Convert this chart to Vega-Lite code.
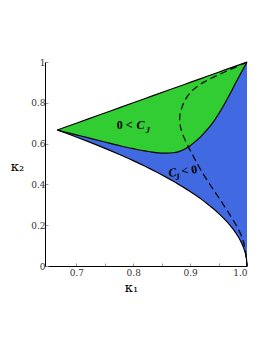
{
  "$schema": "https://vega.github.io/schema/vega-lite/v6.json",
  "autosize": "none",
  "width": 202,
  "height": 204,
  "padding": {"left": 45, "top": 62, "right": 26, "bottom": 87},
  "background": "white",
  "config": {
    "view": {"stroke": null},
    "axis": {"grid": false, "domainColor": "black", "domainWidth": 1, "tickColor": "#999", "tickSize": -3, "labelFont": "DejaVu Serif", "labelFontSize": 9, "labelColor": "#333", "titleFont": "DejaVu Serif", "titleFontWeight": "normal", "titleFontSize": 13, "titleColor": "black"}
  },
  "datasets": {
    "main": [
      {"k1": 0.6667, "lo": 0.6667, "mid": 0.6667, "up": 0.6667},
      {"k1": 0.68, "lo": 0.6532, "mid": 0.657, "up": 0.68},
      {"k1": 0.70, "lo": 0.6325, "mid": 0.643, "up": 0.70},
      {"k1": 0.72, "lo": 0.6110, "mid": 0.629, "up": 0.72},
      {"k1": 0.74, "lo": 0.5888, "mid": 0.615, "up": 0.74},
      {"k1": 0.76, "lo": 0.5657, "mid": 0.601, "up": 0.76},
      {"k1": 0.78, "lo": 0.5416, "mid": 0.587, "up": 0.78},
      {"k1": 0.80, "lo": 0.5164, "mid": 0.575, "up": 0.80},
      {"k1": 0.82, "lo": 0.4899, "mid": 0.564, "up": 0.82},
      {"k1": 0.83, "lo": 0.4761, "mid": 0.560, "up": 0.83},
      {"k1": 0.84, "lo": 0.4619, "mid": 0.556, "up": 0.84},
      {"k1": 0.86, "lo": 0.4320, "mid": 0.553, "up": 0.86},
      {"k1": 0.87, "lo": 0.4163, "mid": 0.555, "up": 0.87},
      {"k1": 0.88, "lo": 0.4000, "mid": 0.561, "up": 0.88},
      {"k1": 0.89, "lo": 0.3830, "mid": 0.572, "up": 0.89},
      {"k1": 0.90, "lo": 0.3651, "mid": 0.590, "up": 0.90},
      {"k1": 0.91, "lo": 0.3464, "mid": 0.612, "up": 0.91},
      {"k1": 0.92, "lo": 0.3266, "mid": 0.638, "up": 0.92},
      {"k1": 0.93, "lo": 0.3055, "mid": 0.668, "up": 0.93},
      {"k1": 0.94, "lo": 0.2828, "mid": 0.703, "up": 0.94},
      {"k1": 0.95, "lo": 0.2582, "mid": 0.745, "up": 0.95},
      {"k1": 0.96, "lo": 0.2309, "mid": 0.792, "up": 0.96},
      {"k1": 0.97, "lo": 0.2000, "mid": 0.843, "up": 0.97},
      {"k1": 0.98, "lo": 0.1633, "mid": 0.897, "up": 0.98},
      {"k1": 0.99, "lo": 0.1155, "mid": 0.949, "up": 0.99},
      {"k1": 0.995, "lo": 0.0816, "mid": 0.975, "up": 0.995},
      {"k1": 0.999, "lo": 0.0365, "mid": 0.995, "up": 0.999},
      {"k1": 1.0, "lo": 0.0, "mid": 1.0, "up": 1.0}
    ],
    "dash": [
      {"i": 1, "k1": 1.0, "k2": 0.999},
      {"i": 2, "k1": 0.98, "k2": 0.975},
      {"i": 3, "k1": 0.96, "k2": 0.950},
      {"i": 4, "k1": 0.94, "k2": 0.925},
      {"i": 5, "k1": 0.925, "k2": 0.903},
      {"i": 6, "k1": 0.911, "k2": 0.878},
      {"i": 7, "k1": 0.900, "k2": 0.852},
      {"i": 8, "k1": 0.891, "k2": 0.815},
      {"i": 9, "k1": 0.885, "k2": 0.775},
      {"i": 10, "k1": 0.881, "k2": 0.735},
      {"i": 11, "k1": 0.882, "k2": 0.690},
      {"i": 12, "k1": 0.886, "k2": 0.650},
      {"i": 13, "k1": 0.895, "k2": 0.593},
      {"i": 14, "k1": 0.903, "k2": 0.552},
      {"i": 15, "k1": 0.910, "k2": 0.515},
      {"i": 16, "k1": 0.918, "k2": 0.473},
      {"i": 17, "k1": 0.930, "k2": 0.420},
      {"i": 18, "k1": 0.942, "k2": 0.370},
      {"i": 19, "k1": 0.954, "k2": 0.320},
      {"i": 20, "k1": 0.965, "k2": 0.273},
      {"i": 21, "k1": 0.978, "k2": 0.215},
      {"i": 22, "k1": 0.989, "k2": 0.160},
      {"i": 23, "k1": 0.995, "k2": 0.110},
      {"i": 24, "k1": 0.998, "k2": 0.062},
      {"i": 25, "k1": 1.0, "k2": 0.0}
    ],
    "upright1": [
      {"k1": 0.771, "k2": 0.674, "t": "0 <"}
    ],
    "italic1": [
      {"k1": 0.806, "k2": 0.674, "t": "C"}
    ],
    "sub1": [
      {"k1": 0.8215, "k2": 0.652, "t": "J"}
    ],
    "upright2": [
      {"k1": 0.8858, "k2": 0.446, "t": "< 0"}
    ],
    "italic2": [
      {"k1": 0.863, "k2": 0.436, "t": "C"}
    ],
    "sub2": [
      {"k1": 0.875, "k2": 0.4216, "t": "J"}
    ]
  },
  "encoding": {
    "x": {"field": "k1", "type": "quantitative",
      "scale": {"domain": [0.645, 1.0], "nice": false, "zero": false},
      "axis": {"title": "κ₁", "values": [0.7, 0.75, 0.8, 0.85, 0.9, 0.95, 1.0],
        "labelExpr": "abs(datum.value*10 - round(datum.value*10)) < 0.001 ? format(datum.value, '.1f') : ''",
        "labelPadding": 5, "titleX": 86, "titleY": 15, "titleBaseline": "top", "titleAlign": "center"}}
  },
  "layer": [
    {
      "data": {"name": "main"},
      "mark": {"type": "area", "color": "#4169E1", "opacity": 1, "interpolate": "monotone"},
      "encoding": {
        "y": {"field": "lo", "type": "quantitative", "scale": {"domain": [0, 1], "nice": false},
          "axis": {"title": "κ₂", "values": [0, 0.1, 0.2, 0.3, 0.4, 0.5, 0.6, 0.7, 0.8, 0.9, 1.0],
            "labelExpr": "abs(datum.value*5 - round(datum.value*5)) < 0.001 ? format(datum.value, '~g') : ''",
            "labelPadding": 3, "titleAngle": 0, "titleX": -28, "titleY": 104, "titleAlign": "center", "titleBaseline": "middle"}},
        "y2": {"field": "mid"}
      }
    },
    {
      "data": {"name": "main"},
      "mark": {"type": "area", "color": "#32CD32", "opacity": 1, "interpolate": "monotone"},
      "encoding": {
        "y": {"field": "mid", "type": "quantitative"},
        "y2": {"field": "up"}
      }
    },
    {
      "data": {"name": "main"},
      "mark": {"type": "line", "color": "black", "strokeWidth": 1.2, "interpolate": "monotone"},
      "encoding": {"y": {"field": "lo", "type": "quantitative"}}
    },
    {
      "data": {"name": "main"},
      "mark": {"type": "line", "color": "black", "strokeWidth": 1.2, "interpolate": "monotone"},
      "encoding": {"y": {"field": "mid", "type": "quantitative"}}
    },
    {
      "data": {"name": "main"},
      "mark": {"type": "line", "color": "black", "strokeWidth": 1.2},
      "encoding": {"y": {"field": "up", "type": "quantitative"}}
    },
    {
      "data": {"name": "dash"},
      "mark": {"type": "line", "color": "black", "strokeWidth": 1.2, "strokeDash": [7, 4], "interpolate": "basis"},
      "encoding": {
        "y": {"field": "k2", "type": "quantitative"},
        "order": {"field": "i", "type": "quantitative"}
      }
    },
    {
      "data": {"name": "upright1"},
      "mark": {"type": "text", "font": "Liberation Serif", "fontWeight": "bold", "fontSize": 12, "align": "left", "baseline": "alphabetic", "color": "black"},
      "encoding": {"y": {"field": "k2", "type": "quantitative"}, "text": {"field": "t"}}
    },
    {
      "data": {"name": "italic1"},
      "mark": {"type": "text", "font": "Liberation Serif", "fontWeight": "bold", "fontStyle": "italic", "fontSize": 12, "align": "left", "baseline": "alphabetic", "color": "black"},
      "encoding": {"y": {"field": "k2", "type": "quantitative"}, "text": {"field": "t"}}
    },
    {
      "data": {"name": "sub1"},
      "mark": {"type": "text", "font": "Liberation Serif", "fontWeight": "bold", "fontStyle": "italic", "fontSize": 9, "align": "left", "baseline": "alphabetic", "color": "black"},
      "encoding": {"y": {"field": "k2", "type": "quantitative"}, "text": {"field": "t"}}
    },
    {
      "data": {"name": "upright2"},
      "mark": {"type": "text", "font": "Liberation Serif", "fontWeight": "bold", "fontSize": 12, "align": "left", "baseline": "alphabetic", "color": "black", "angle": -8},
      "encoding": {"y": {"field": "k2", "type": "quantitative"}, "text": {"field": "t"}}
    },
    {
      "data": {"name": "italic2"},
      "mark": {"type": "text", "font": "Liberation Serif", "fontWeight": "bold", "fontStyle": "italic", "fontSize": 12, "align": "left", "baseline": "alphabetic", "color": "black", "angle": -8},
      "encoding": {"y": {"field": "k2", "type": "quantitative"}, "text": {"field": "t"}}
    },
    {
      "data": {"name": "sub2"},
      "mark": {"type": "text", "font": "Liberation Serif", "fontWeight": "bold", "fontStyle": "italic", "fontSize": 9, "align": "left", "baseline": "alphabetic", "color": "black", "angle": -8},
      "encoding": {"y": {"field": "k2", "type": "quantitative"}, "text": {"field": "t"}}
    }
  ]
}
